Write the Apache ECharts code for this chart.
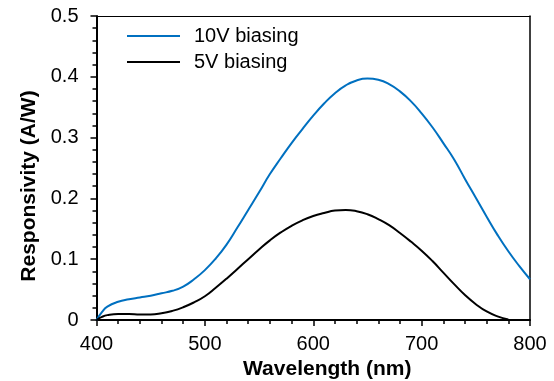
<!DOCTYPE html>
<html>
<head>
<meta charset="utf-8">
<script src="https://cdn.jsdelivr.net/npm/echarts@6/dist/echarts.min.js"></script>
<style>html,body{margin:0;padding:0;background:#fff;}#c{width:554px;height:381px;}</style>
</head>
<body>
<div id="c"></div>
<script>
var wavelengths = [400,405,410,420,430,440,450,460,470,480,490,500,510,520,530,540,550,560,570,580,590,600,610,620,630,640,650,660,670,680,690,700,710,720,730,740,750,760,770,780,790,800];
var bias10V = [0,0.013,0.022,0.030,0.034,0.037,0.040,0.044,0.048,0.055,0.067,0.082,0.101,0.124,0.152,0.181,0.210,0.240,0.266,0.291,0.314,0.336,0.356,0.373,0.386,0.394,0.397,0.395,0.388,0.376,0.360,0.340,0.317,0.291,0.264,0.232,0.201,0.170,0.140,0.113,0.089,0.067];
var bias5V = [0,0.005,0.008,0.010,0.010,0.009,0.009,0.011,0.015,0.021,0.029,0.039,0.053,0.068,0.084,0.100,0.116,0.131,0.144,0.155,0.164,0.171,0.176,0.180,0.181,0.179,0.174,0.166,0.156,0.143,0.129,0.114,0.097,0.078,0.059,0.041,0.026,0.014,0.006,0.001,null,null];
var seriesNames = ['10V biasing','5V biasing'];

function pairs(xs, ys){ var out=[]; for(var i=0;i<xs.length;i++){ if(ys[i]!==null) out.push([xs[i], ys[i]]); } return out; }

var chart = echarts.init(document.getElementById('c'));
var font = 'Liberation Sans, Arial, sans-serif';
var hidden = {show:false};
var ghostLine = {show:true,onZero:false,lineStyle:{color:'rgba(0,0,0,0)',width:0}};
chart.setOption({
  animation:false,
  backgroundColor:'#fff',
  grid:{left:96.5,right:24,top:16,bottom:61,containLabel:false,outerBoundsMode:'none'},
  legend:{
    orient:'vertical', left:122, top:21, itemGap:6, itemWidth:53, itemHeight:2, icon:'rect',
    textStyle:{fontFamily:font,fontSize:20,color:'#000',padding:[0,0,0,9]},
    data:seriesNames
  },
  xAxis:[{
    type:'value', min:400, max:800, interval:100, position:'bottom',
    name:'Wavelength (nm)', nameLocation:'middle', nameGap:37,
    nameTextStyle:{fontFamily:font,fontSize:21,fontWeight:'bold',color:'#000',padding:[0,0,0,28]},
    axisLine:{show:true,onZero:false,lineStyle:{color:'#000',width:2}},
    axisTick:{show:true,inside:false,length:6,lineStyle:{color:'#000',width:1.5}},
    splitLine:{show:false},
    axisLabel:{fontFamily:font,fontSize:20,color:'#000',margin:14}
  },{
    type:'value', min:400, max:800, interval:20, position:'bottom', offset:0,
    axisLine:ghostLine, axisLabel:hidden, splitLine:hidden,
    axisTick:{show:true,inside:false,length:4,lineStyle:{color:'#000',width:1.5}}
  },{
    type:'value', min:400, max:800, position:'top', offset:0,
    axisLine:{show:true,onZero:false,lineStyle:{color:'#000',width:1}}, axisLabel:hidden, splitLine:hidden, axisTick:hidden
  }],
  yAxis:[{
    type:'value', min:0, max:0.5, interval:0.1, position:'left',
    name:'Responsivity (A/W)', nameLocation:'middle', nameGap:52,
    nameTextStyle:{fontFamily:font,fontSize:21,fontWeight:'bold',color:'#000',padding:[0,36,0,0]},
    axisLine:{show:true,onZero:false,lineStyle:{color:'#000',width:2}},
    axisTick:{show:true,inside:false,length:6,lineStyle:{color:'#000',width:1.5}},
    splitLine:{show:false},
    axisLabel:{fontFamily:font,fontSize:20,color:'#000',margin:18}
  },{
    type:'value', min:0, max:0.5, interval:0.02, position:'left', offset:0,
    axisLine:ghostLine, axisLabel:hidden, splitLine:hidden,
    axisTick:{show:true,inside:false,length:4,lineStyle:{color:'#000',width:1.5}}
  },{
    type:'value', min:0, max:0.5, position:'right', offset:0,
    axisLine:{show:true,onZero:false,lineStyle:{color:'#000',width:1.5}}, axisLabel:hidden, splitLine:hidden, axisTick:hidden
  }],
  series:[
    {name:seriesNames[0],type:'line',smooth:true,symbol:'none',data:pairs(wavelengths,bias10V),lineStyle:{color:'#0070C0',width:2},itemStyle:{color:'#0070C0'}},
    {name:seriesNames[1],type:'line',smooth:true,symbol:'none',data:pairs(wavelengths,bias5V),lineStyle:{color:'#000',width:2},itemStyle:{color:'#000'}}
  ]
});
</script>
</body>
</html>
